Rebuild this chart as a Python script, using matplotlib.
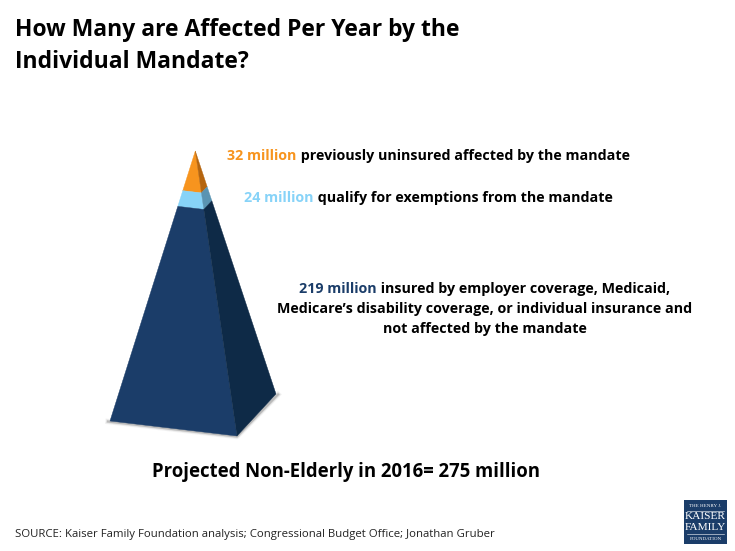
import matplotlib
matplotlib.use('Agg')
import matplotlib.pyplot as plt
from matplotlib.patches import Polygon, Rectangle

W, H = 735, 551

title_lines = ['How Many are Affected Per Year by the', 'Individual Mandate?']
source = 'SOURCE: Kaiser Family Foundation analysis; Congressional Budget Office; Jonathan Gruber'
total_label = 'Projected Non-Elderly in 2016= 275 million'
logo_lines = ['THE HENRY J.', 'KAISER', 'FAMILY', 'FOUNDATION']

# top to bottom
tier_values = ['32 million', '24 million', '219 million']
tier_text = [
    [' previously uninsured affected by the mandate'],
    [' qualify for exemptions from the mandate'],
    [' insured by employer coverage, Medicaid,',
     'Medicare\u2019s disability coverage, or individual insurance and',
     'not affected by the mandate'],
]
# where each tier ends, as share of the way from apex to base
tier_ends = [0.147, 0.205, 1.0]
front_colors = ['#F7941E', '#87D3F8', '#1B3D69']
side_colors = ['#B5650F', '#5A94B2', '#0E2A47']
text_colors = ['#F7941E', '#87D3F8', '#1B3D69']

apex = (195.3, 151)
base_left = (110, 421)
base_mid = (237, 436)
base_right = (276, 394)

plt.rcParams['font.family'] = ['Open Sans', 'DejaVu Sans']

fig = plt.figure(figsize=(7.35, 5.51), dpi=100)
ax = fig.add_axes([0, 0, 1, 1])
ax.set_xlim(0, W)
ax.set_ylim(H, 0)
ax.axis('off')


def along(corner, t):
    return (apex[0] + (corner[0] - apex[0]) * t, apex[1] + (corner[1] - apex[1]) * t)


# soft shadow under the base
for lw, a in [(4, 0.06), (2.8, 0.1), (1.6, 0.25)]:
    ax.plot([base_left[0] - 2, base_mid[0], base_right[0] + 2],
            [base_left[1] + 0.5, base_mid[1] + 0.5, base_right[1] + 0.5],
            color='#444444', alpha=a, lw=lw, solid_joinstyle='round', zorder=1)

start = 0
for end, fc, sc in zip(tier_ends, front_colors, side_colors):
    ax.add_patch(Polygon([along(base_left, start), along(base_mid, start),
                          along(base_mid, end), along(base_left, end)],
                         facecolor=fc, edgecolor=fc, lw=0.3, zorder=2))
    ax.add_patch(Polygon([along(base_mid, start), along(base_right, start),
                          along(base_right, end), along(base_mid, end)],
                         facecolor=sc, edgecolor=sc, lw=0.3, zorder=2))
    start = end

for i, line in enumerate(title_lines):
    ax.text(15, 30.5 + i * 31.5, line, fontsize=16.5, fontweight='bold', color='black',
            va='center', ha='left')


def colored_line(cx, y, parts, size=10.3):
    # parts are (string, colour), drawn one after the other, centred on cx
    r = fig.canvas.get_renderer()
    items = [ax.text(0, y, s.replace(' ', '\u00a0'), fontsize=size, fontweight='bold',
                     color=c, va='center', ha='left') for s, c in parts]
    widths = [t.get_window_extent(r).width for t in items]
    x = cx - sum(widths) / 2
    for t, w in zip(items, widths):
        t.set_x(x)
        x += w


colored_line(428.5, 156, [(tier_values[0], text_colors[0]), (tier_text[0][0], 'black')])
colored_line(428.5, 198, [(tier_values[1], text_colors[1]), (tier_text[1][0], 'black')])
colored_line(484.5, 289, [(tier_values[2], text_colors[2]), (tier_text[2][0], 'black')])
colored_line(485, 309.5, [(tier_text[2][1], 'black')])
colored_line(485, 329.5, [(tier_text[2][2], 'black')])

ax.text(346, 471.5, total_label, fontsize=13.35, fontweight='bold', color='black',
        ha='center', va='center')
ax.text(15, 534.5, source, fontsize=8.2, color='#222222', ha='left', va='center')

# logo
ax.add_patch(Rectangle((684, 500), 43, 44, facecolor='#1B3D69', edgecolor='none'))
for line, y, fs in zip(logo_lines, [506, 516.5, 527, 538.5], [3.6, 8.2, 8.2, 3.6]):
    ax.text(705.5, y, line, color='white', fontsize=fs, family='Liberation Serif',
            ha='center', va='center')
ax.plot([687, 724], [510.5, 510.5], color='white', lw=0.4)
ax.plot([687, 724], [534, 534], color='white', lw=0.4)

fig.savefig('out.png', dpi=100)
